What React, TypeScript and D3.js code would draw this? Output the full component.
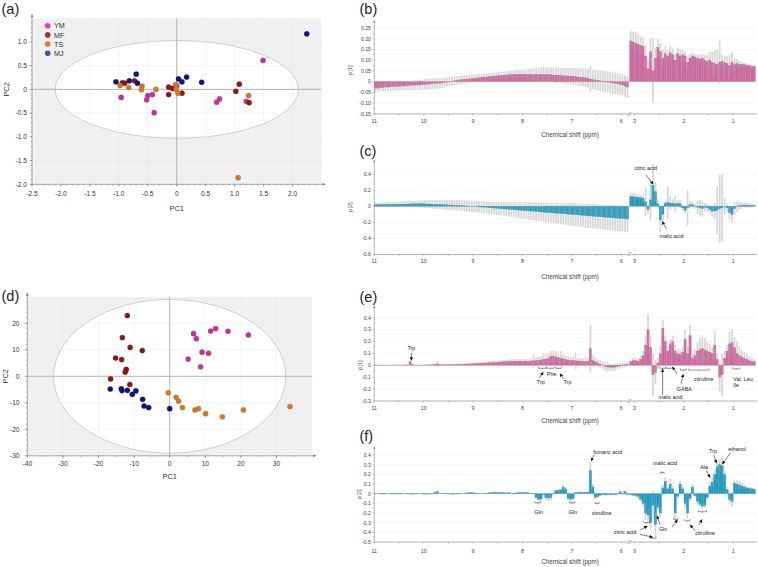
import React from "react";
import * as d3 from "d3";

const FONT = "'Liberation Sans', Arial, Helvetica, sans-serif";

// ---- PCA scores (a): [PC1, PC2] ----
const aYM = [[1.49, 0.61], [-0.96, -0.17], [-0.5, -0.13], [-0.52, -0.22], [-0.42, -0.11], [-0.39, -0.49], [0.0, 0.08], [0.69, -0.27], [0.74, -0.2], [1.2, -0.25]];
const aMF = [[-0.94, 0.14], [-0.9, 0.13], [-0.73, 0.18], [-0.14, 0.05], [-0.07, 0.02], [-0.14, -0.11], [0.09, -0.08], [1.02, -0.04], [1.08, 0.11], [1.25, -0.28]];
const aTS = [[-0.98, 0.08], [-0.83, 0.04], [-0.6, 0.07], [-0.61, -0.01], [-0.36, 0.0], [-0.02, 0.1], [-0.01, 0.0], [0.02, -0.08], [1.24, -0.13], [1.06, -1.86]];
const aMJ = [[2.245, 1.17], [-1.05, 0.16], [-0.7, 0.32], [-0.82, 0.18], [-0.68, 0.13], [0.03, 0.22], [0.09, 0.16], [0.17, 0.26], [0.43, 0.15]];

// ---- PCA scores (d) ----
const dYM = [[6.7, 16.1], [7.5, 14.2], [11.5, 17.1], [12.9, 18.0], [16.4, 17.0], [22.1, 15.6], [9.1, 9.1], [10.9, 8.7], [5.2, 6.5], [8.7, 3.6]];
const dMF = [[-11.9, 22.9], [-13.3, 14.6], [-11.1, 10.9], [-7.7, 9.7], [-15.2, 6.9], [-13.5, 6.3], [-12.2, 2.6], [-12.5, 1.6], [-16.6, -1.0], [-11.2, -3.1]];
const dTS = [[-0.4, -6.2], [1.8, -7.9], [2.5, -9.4], [3.6, -11.8], [7.1, -12.7], [8.1, -12.2], [10.1, -14.1], [14.8, -15.3], [20.7, -12.7], [33.8, -11.4]];
const dMJ = [[-16.7, -4.8], [-13.6, -4.7], [-13.4, -5.4], [-11.9, -5.3], [-10.5, -6.8], [-9.5, -5.5], [-7.6, -8.7], [-7.2, -11.2], [-5.9, -11.8], [0.0, -12.2]];

const groupNames = ["YM", "MF", "TS", "MJ"];
const dotColors = ["#c2339f", "#8b1717", "#cf7b27", "#0e1480"];
const keyColors = ["#e03fcc", "#9e3535", "#e97d22", "#3d5b97"];

const aXTicks = [-2.5, -2, -1.5, -1, -0.5, 0, 0.5, 1, 1.5, 2];
const aYTicks = [-2, -1.5, -1, -0.5, 0, 0.5, 1];
const dXTicks = [-40, -30, -20, -10, 0, 10, 20, 30];
const dYTicks = [-30, -20, -10, 0, 10, 20];

// ---- loadings: 0.05 ppm buckets, left block from 11 ppm, right block from 3.1 ppm ----
const BIN = 0.05;
const LEFT_FROM = 11;
const RIGHT_FROM = 3.1;

const bLeft = [
  -0.03, -0.03, -0.028, -0.027, -0.025, -0.025, -0.024, -0.023, -0.022, -0.022,
  -0.021, -0.02, -0.02, -0.019, -0.018, -0.017, -0.016, -0.016, -0.015, -0.014,
  -0.013, -0.012, -0.011, -0.01, -0.009, -0.008, -0.007, -0.006, -0.004, -0.002,
  0.0, 0.002, 0.004, 0.006, 0.008, 0.01, 0.011, 0.012, 0.013, 0.015,
  0.016, 0.017, 0.018, 0.02, 0.021, 0.022, 0.024, 0.025, 0.026, 0.027,
  0.028, 0.029, 0.03, 0.031, 0.032, 0.033, 0.033, 0.034, 0.035, 0.035,
  0.035, 0.034, 0.034, 0.035, 0.033, 0.034, 0.033, 0.035, 0.034, 0.033,
  0.033, 0.032, 0.031, 0.03, 0.03, 0.029, 0.028, 0.027, 0.027, 0.026,
  0.025, 0.024, 0.022, 0.021, 0.02, 0.018, 0.016, 0.012, 0.01, 0.008,
  0.006, 0.004, 0.002, 0.0, -0.002, -0.004, -0.006, -0.008, -0.01, -0.012,
  -0.015, -0.02, -0.025,
];
const bLeftErr = [
  0.018, 0.018, 0.017, 0.018, 0.019, 0.018, 0.018, 0.019, 0.02, 0.02,
  0.02, 0.021, 0.02, 0.021, 0.022, 0.022, 0.023, 0.023, 0.024, 0.024,
  0.024, 0.025, 0.025, 0.024, 0.025, 0.024, 0.024, 0.023, 0.023, 0.022,
  0.022, 0.021, 0.021, 0.02, 0.02, 0.02, 0.019, 0.019, 0.018, 0.018,
  0.018, 0.017, 0.017, 0.016, 0.016, 0.016, 0.016, 0.015, 0.016, 0.016,
  0.016, 0.016, 0.017, 0.017, 0.018, 0.018, 0.019, 0.02, 0.02, 0.021,
  0.022, 0.024, 0.025, 0.027, 0.028, 0.03, 0.03, 0.032, 0.034, 0.033,
  0.034, 0.035, 0.034, 0.035, 0.036, 0.035, 0.036, 0.037, 0.038, 0.038,
  0.039, 0.04, 0.04, 0.042, 0.041, 0.043, 0.044, 0.06, 0.045, 0.046,
  0.046, 0.047, 0.048, 0.048, 0.049, 0.05, 0.05, 0.05, 0.05, 0.05,
  0.05, 0.05, 0.05,
];
const bRight = [
  0.19, 0.185, 0.18, 0.175, 0.17, 0.165, 0.12, 0.06, 0.14, 0.05,
  0.11, 0.16, 0.14, 0.11, 0.13, 0.12, 0.135, 0.125, 0.1, 0.13,
  0.12, 0.125, 0.12, 0.09, 0.11, 0.12, 0.115, 0.11, 0.105, 0.11,
  0.1, 0.095, 0.1, 0.09, 0.085, 0.08, 0.09, 0.095, 0.09, 0.085,
  0.075, 0.09, 0.08, 0.085, 0.08, 0.08, 0.08, 0.075, 0.075, 0.07,
  0.07,
];
const bRightErr = [
  0.05, 0.05, 0.05, 0.045, 0.04, 0.04, 0.05, 0.05, 0.06, 0.15,
  0.05, 0.04, 0.04, 0.04, 0.035, 0.03, 0.03, 0.03, 0.03, 0.03,
  0.03, 0.025, 0.02, 0.03, 0.02, 0.015, 0.015, 0.015, 0.02, 0.02,
  0.025, 0.03, 0.04, 0.05, 0.06, 0.07, 0.1, 0.03, 0.03, 0.035,
  0.05, 0.045, 0.03, 0.02, 0.015, 0.01, 0.01, 0.01, 0.008, 0.008,
  0.008,
];

const cLeft = [
  0.02, 0.021, 0.02, 0.022, 0.022, 0.024, 0.024, 0.025, 0.025, 0.026,
  0.026, 0.027, 0.028, 0.028, 0.029, 0.03, 0.03, 0.03, 0.031, 0.03,
  0.03, 0.028, 0.028, 0.025, 0.025, 0.024, 0.022, 0.02, 0.02, 0.018,
  0.016, 0.015, 0.013, 0.012, 0.01, 0.008, 0.006, 0.004, 0.002, 0.0,
  -0.002, -0.005, -0.008, -0.01, -0.012, -0.015, -0.018, -0.02, -0.022, -0.025,
  -0.028, -0.03, -0.033, -0.035, -0.038, -0.04, -0.043, -0.045, -0.048, -0.05,
  -0.053, -0.055, -0.058, -0.06, -0.063, -0.065, -0.068, -0.07, -0.073, -0.075,
  -0.078, -0.08, -0.083, -0.085, -0.088, -0.09, -0.092, -0.095, -0.097, -0.1,
  -0.102, -0.105, -0.108, -0.11, -0.112, -0.115, -0.118, -0.12, -0.122, -0.125,
  -0.128, -0.13, -0.133, -0.135, -0.138, -0.14, -0.143, -0.145, -0.148, -0.15,
  -0.152, -0.155, -0.158,
];
const cLeftErr = [
  0.025, 0.025, 0.026, 0.027, 0.028, 0.028, 0.029, 0.03, 0.03, 0.031,
  0.032, 0.033, 0.034, 0.035, 0.036, 0.036, 0.038, 0.04, 0.042, 0.044,
  0.046, 0.048, 0.05, 0.052, 0.054, 0.056, 0.058, 0.06, 0.06, 0.062,
  0.062, 0.064, 0.064, 0.065, 0.066, 0.066, 0.067, 0.068, 0.068, 0.07,
  0.07, 0.071, 0.072, 0.073, 0.074, 0.075, 0.076, 0.077, 0.078, 0.079,
  0.08, 0.082, 0.084, 0.086, 0.088, 0.09, 0.092, 0.095, 0.098, 0.1,
  0.102, 0.104, 0.106, 0.108, 0.11, 0.112, 0.114, 0.116, 0.118, 0.12,
  0.122, 0.124, 0.126, 0.128, 0.13, 0.132, 0.134, 0.136, 0.138, 0.14,
  0.141, 0.142, 0.144, 0.145, 0.146, 0.148, 0.149, 0.15, 0.151, 0.152,
  0.153, 0.154, 0.155, 0.156, 0.157, 0.158, 0.158, 0.159, 0.16, 0.16,
  0.16, 0.16, 0.16,
];
const cRight = [
  0.12, 0.12, 0.115, 0.11, 0.11, 0.1, 0.06, -0.04, 0.08, 0.26,
  0.18, 0.03, -0.17, -0.1, 0.04, 0.05, 0.04, 0.04, 0.03, 0.035,
  0.03, -0.02, -0.05, -0.02, 0.02, 0.02, 0.0, -0.01, -0.02, -0.03,
  -0.01, -0.02, -0.04, -0.06, -0.06, -0.05, -0.03, -0.02, 0.0, -0.02,
  -0.08, -0.1, -0.03, 0.0, 0.01, 0.01, 0.015, 0.015, 0.01, 0.01,
  0.01,
];
const cRightErr = [
  0.05, 0.05, 0.04, 0.04, 0.035, 0.04, 0.18, 0.05, 0.25, 0.26,
  0.12, 0.06, 0.15, 0.1, 0.02, 0.2, 0.08, 0.05, 0.1, 0.04,
  0.05, 0.04, 0.05, 0.22, 0.05, 0.03, 0.03, 0.08, 0.1, 0.1,
  0.05, 0.05, 0.05, 0.07, 0.1, 0.3, 0.42, 0.42, 0.1, 0.05,
  0.08, 0.1, 0.08, 0.07, 0.05, 0.04, 0.03, 0.03, 0.03, 0.025,
  0.02,
];

const eLeft = [
  0.002, 0.002, 0.001, 0.002, 0.002, 0.001, 0.002, 0.002, 0.003, 0.002,
  0.002, 0.002, 0.003, 0.003, 0.03, 0.008, 0.002, 0.002, 0.001, 0.002,
  0.002, 0.003, 0.003, 0.004, 0.006, 0.012, 0.005, 0.004, 0.004, 0.005,
  0.005, 0.006, 0.006, 0.007, 0.008, 0.008, 0.009, 0.01, 0.012, 0.012,
  0.013, 0.015, 0.016, 0.017, 0.018, 0.02, 0.021, 0.022, 0.024, 0.025,
  0.027, 0.028, 0.03, 0.03, 0.032, 0.033, 0.032, 0.034, 0.035, 0.034,
  0.033, 0.035, 0.034, 0.036, 0.038, 0.04, 0.042, 0.045, 0.05, 0.052,
  0.06, 0.075, 0.078, 0.07, 0.065, 0.06, 0.055, 0.05, 0.045, 0.04,
  0.04, 0.038, 0.036, 0.035, 0.033, 0.03, 0.032, 0.14, 0.04, 0.03,
  0.02, 0.01, 0.0, -0.01, -0.015, -0.018, -0.02, -0.015, -0.01, -0.005,
  0.0, 0.005, 0.008,
];
const eLeftErr = [
  0.004, 0.004, 0.004, 0.004, 0.004, 0.004, 0.004, 0.004, 0.004, 0.004,
  0.004, 0.004, 0.004, 0.005, 0.012, 0.006, 0.004, 0.004, 0.004, 0.004,
  0.005, 0.005, 0.005, 0.005, 0.008, 0.022, 0.006, 0.005, 0.005, 0.005,
  0.006, 0.006, 0.006, 0.007, 0.007, 0.008, 0.008, 0.009, 0.009, 0.01,
  0.01, 0.01, 0.011, 0.012, 0.012, 0.012, 0.013, 0.013, 0.014, 0.014,
  0.015, 0.015, 0.016, 0.016, 0.017, 0.017, 0.018, 0.018, 0.018, 0.02,
  0.02, 0.02, 0.022, 0.022, 0.055, 0.025, 0.03, 0.03, 0.05, 0.035,
  0.04, 0.045, 0.045, 0.05, 0.04, 0.06, 0.035, 0.03, 0.03, 0.03,
  0.028, 0.07, 0.025, 0.025, 0.025, 0.04, 0.03, 0.2, 0.045, 0.035,
  0.03, 0.03, 0.03, 0.035, 0.035, 0.03, 0.03, 0.03, 0.025, 0.025,
  0.02, 0.02, 0.02,
];
const eRight = [
  0.03, 0.04, 0.04, 0.035, 0.05, 0.08, 0.17, 0.3, 0.15, -0.08,
  -0.06, 0.02, 0.1, 0.31, 0.2, 0.12, 0.18, 0.2, 0.12, 0.1,
  0.09, 0.11, 0.22, 0.1, 0.25, 0.06, 0.08, 0.12, 0.13, 0.14,
  0.13, 0.12, 0.11, 0.1, 0.17, 0.05, -0.1, -0.08, 0.06, 0.12,
  0.18, 0.19, 0.15, 0.1, 0.08, 0.07, 0.06, 0.05, 0.04, 0.035,
  0.03,
];
const eRightErr = [
  0.02, 0.02, 0.02, 0.02, 0.03, 0.04, 0.08, 0.13, 0.1, 0.18,
  0.1, 0.05, 0.06, 0.07, 0.05, 0.04, 0.04, 0.05, 0.05, 0.04,
  0.04, 0.04, 0.08, 0.06, 0.09, 0.04, 0.05, 0.07, 0.1, 0.11,
  0.1, 0.08, 0.07, 0.05, 0.12, 0.05, 0.12, 0.18, 0.06, 0.05,
  0.1, 0.11, 0.09, 0.1, 0.08, 0.06, 0.05, 0.04, 0.035, 0.03,
  0.025,
];

const fLeft = [
  0.0, 0.001, 0.0, -0.002, 0.0, 0.001, 0.0, -0.002, -0.001, 0.0,
  -0.002, 0.0, 0.002, 0.0, -0.003, -0.004, -0.002, 0.0, 0.001, -0.003,
  -0.004, -0.003, -0.002, 0.0, 0.01, 0.022, 0.005, 0.001, 0.0, -0.002,
  -0.003, -0.004, -0.003, -0.002, 0.0, 0.003, 0.005, 0.008, 0.01, 0.01,
  0.008, 0.006, 0.005, 0.003, 0.002, 0.0, 0.008, 0.01, 0.012, 0.01,
  0.01, 0.012, 0.01, 0.008, 0.01, 0.003, 0.0, 0.008, 0.01, 0.01,
  0.012, 0.01, 0.008, 0.005, 0.0, -0.04, -0.06, -0.055, -0.01, -0.04,
  -0.045, -0.04, 0.0, 0.03, 0.035, 0.04, 0.07, 0.05, -0.05, -0.06,
  -0.05, 0.01, 0.01, 0.015, 0.01, 0.012, 0.015, 0.24, 0.07, -0.04,
  -0.03, -0.015, -0.01, -0.012, -0.01, -0.01, -0.008, -0.01, -0.005, 0.02,
  0.0, 0.02, -0.01,
];
const fLeftErr = [
  0.004, 0.004, 0.004, 0.004, 0.004, 0.004, 0.004, 0.004, 0.004, 0.004,
  0.004, 0.004, 0.004, 0.004, 0.004, 0.004, 0.004, 0.004, 0.004, 0.004,
  0.004, 0.004, 0.004, 0.004, 0.006, 0.01, 0.004, 0.004, 0.004, 0.004,
  0.004, 0.005, 0.005, 0.005, 0.005, 0.005, 0.005, 0.006, 0.006, 0.006,
  0.006, 0.006, 0.006, 0.006, 0.006, 0.006, 0.006, 0.006, 0.006, 0.006,
  0.006, 0.006, 0.006, 0.006, 0.006, 0.006, 0.006, 0.006, 0.006, 0.006,
  0.006, 0.006, 0.006, 0.006, 0.006, 0.01, 0.02, 0.02, 0.01, 0.03,
  0.03, 0.03, 0.01, 0.01, 0.012, 0.012, 0.02, 0.015, 0.02, 0.02,
  0.02, 0.008, 0.008, 0.008, 0.008, 0.008, 0.01, 0.09, 0.03, 0.02,
  0.015, 0.01, 0.008, 0.008, 0.008, 0.008, 0.008, 0.008, 0.008, 0.015,
  0.01, 0.015, 0.01,
];
const fRight = [
  -0.01, -0.015, -0.02, -0.03, -0.06, -0.1, -0.2, -0.22, -0.3, -0.12,
  -0.32, -0.14, -0.2, 0.06, 0.13, 0.05, 0.1, 0.05, -0.2, -0.03,
  0.1, 0.05, -0.1, -0.2, -0.05, 0.07, -0.02, -0.08, -0.11, -0.13,
  -0.12, -0.04, 0.08, 0.12, 0.2, 0.28, 0.3, 0.29, 0.2, 0.04,
  -0.06, -0.08, 0.11, 0.1, 0.09, 0.08, 0.07, 0.06, 0.055, 0.05,
  0.045,
];
const fRightErr = [
  0.01, 0.01, 0.015, 0.02, 0.02, 0.03, 0.07, 0.06, 0.06, 0.15,
  0.13, 0.05, 0.04, 0.03, 0.04, 0.03, 0.06, 0.03, 0.06, 0.02,
  0.03, 0.03, 0.04, 0.06, 0.03, 0.03, 0.02, 0.03, 0.03, 0.03,
  0.03, 0.02, 0.04, 0.05, 0.05, 0.05, 0.06, 0.08, 0.05, 0.03,
  0.04, 0.05, 0.03, 0.04, 0.04, 0.03, 0.02, 0.02, 0.015, 0.015,
  0.012,
];

const bTicks = [-0.15, -0.1, -0.05, 0, 0.05, 0.1, 0.15, 0.2, 0.25];
const cTicks = [-0.6, -0.4, -0.2, 0, 0.2, 0.4];
const eTicks = [-0.3, -0.2, -0.1, 0, 0.1, 0.2, 0.3, 0.4];
const fTicks = [-0.5, -0.4, -0.3, -0.2, -0.1, 0, 0.1, 0.2, 0.3, 0.4];
const ppmLeftTicks = [11, 10, 9, 8, 7, 6];
const ppmRightTicks = [3, 2, 1];

// annotations: [text, ppm, value, anchor]
const cNotes = [["citric acid", 3.0, 0.45, "start"], ["malic acid", 2.25, -0.39, "middle"]];
const cArrows = [[2.77, 0.39, 2.62, 0.275], [2.35, -0.28, 2.44, -0.19]];
const eNotes = [
  ["Trp", 10.25, 0.13, "middle"], ["Trp", 7.63, -0.16, "middle"], ["Phe", 7.41, -0.09, "middle"],
  ["Trp", 7.09, -0.16, "middle"], ["malic acid", 2.27, -0.283, "middle"], ["GABA", 1.99, -0.22, "middle"],
  ["citrulline", 1.6, -0.13, "middle"], ["Val, Leu,", 1.0, -0.13, "start"], ["Ile", 1.0, -0.18, "start"],
];
const eArrows = [
  [10.25, 0.105, 10.25, 0.042], [7.66, -0.107, 7.58, -0.058], [7.17, -0.115, 7.24, -0.07],
  [2.43, -0.25, 2.43, -0.03], [2.14, -0.07, 2.23, -0.015], [2.06, -0.155, 2.01, -0.075],
];
const eBraces = [
  [7.68, 7.52, -0.025, 1], [7.51, 7.36, -0.025, 1], [7.33, 7.21, -0.025, 1], [2.49, 2.37, -0.025, 1],
  [2.36, 2.23, -0.025, 1], [2.07, 1.95, -0.04, 1], [1.91, 1.49, -0.04, 1], [1.01, 0.87, -0.03, 1],
];
const fNotes = [
  ["fumaric acid", 6.57, 0.41, "start"], ["Gln", 7.67, -0.205, "middle"], ["Gln", 6.98, -0.21, "middle"],
  ["citrulline", 6.4, -0.22, "middle"], ["malic acid", 2.38, 0.295, "middle"], ["Ala", 1.59, 0.26, "middle"],
  ["Trp", 1.41, 0.42, "middle"], ["ethanol", 0.92, 0.44, "middle"], ["citric acid", 3.19, -0.42, "middle"],
  ["Gln", 2.42, -0.385, "middle"], ["citrulline", 1.57, -0.427, "middle"],
];
const fArrows = [
  [6.55, 0.4, 6.61, 0.34], [1.55, 0.245, 1.47, 0.167], [1.39, 0.4, 1.34, 0.317], [1.06, 0.42, 1.22, 0.307],
  [2.89, -0.376, 2.74, -0.335], [2.89, -0.42, 2.63, -0.45], [2.48, -0.323, 2.54, -0.23],
  [2.24, -0.345, 2.13, -0.27], [1.77, -0.386, 1.87, -0.324], [1.7, -0.324, 1.63, -0.267],
];
const fBraces = [
  [7.75, 7.63, -0.093, 1], [7.05, 6.94, -0.093, 1], [6.53, 6.45, -0.1, 1], [2.47, 2.4, 0.22, -1],
  [2.81, 2.68, -0.3, 1], [2.68, 2.56, -0.46, 1], [2.21, 2.12, -0.265, 1], [1.98, 1.88, -0.28, 1],
  [1.71, 1.54, -0.186, 1],
];

const xl = d3.scaleLinear().domain([11, 5.85]).range([374.3, 628.7]);
const xr = d3.scaleLinear().domain([3.1, 0.55]).range([629.5, 755.5]);
const X = (ppm: number) => (ppm > 4.5 ? xl(ppm) : xr(ppm));

const mids = (t: number[]) => d3.pairs(t).map(([a, b]) => (a + b) / 2);

function Scores(p: any) {
  const [L, T, R, B] = p.box;
  const x = d3.scaleLinear().domain(p.xDom).range([L, R]);
  const y = d3.scaleLinear().domain(p.yDom).range([B, T]);
  const sets = [p.ym, p.mf, p.ts, p.mj];
  return (
    <g>
      <text x={1.5} y={p.tagY} fontSize={14.5} fill="#222">{p.tag}</text>
      <rect x={L} y={T} width={R - L} height={B - T} fill="#f0f0f0" />
      <ellipse cx={x(0)} cy={y(0)} rx={x(p.ell[0]) - x(0)} ry={y(0) - y(p.ell[1])} fill="#fff" stroke="#c4c4c4" strokeWidth={0.8} />
      {p.xTicks.map((t: number) => (
        <line key={"gx" + t} x1={x(t)} x2={x(t)} y1={T} y2={B} stroke="#e6e6e6" strokeWidth={0.5} />
      ))}
      {p.yTicks.map((t: number) => (
        <line key={"gy" + t} x1={L} x2={R} y1={y(t)} y2={y(t)} stroke="#e6e6e6" strokeWidth={0.5} />
      ))}
      <line x1={x(0)} x2={x(0)} y1={T} y2={B} stroke="#a6a6a6" strokeWidth={0.8} />
      <line x1={L} x2={R} y1={y(0)} y2={y(0)} stroke="#a6a6a6" strokeWidth={0.8} />
      {sets.map((pts: number[][], g: number) =>
        pts.map((d, i) => (
          <circle key={g + "-" + i} cx={x(d[0])} cy={y(d[1])} r={2.6} fill={dotColors[g]} stroke={d3.color(dotColors[g])!.darker(0.6).toString()} strokeWidth={0.3} />
        ))
      )}
      {p.legend &&
        groupNames.map((n, i) => (
          <g key={n}>
            <circle cx={47.7} cy={25.7 + i * 9.2} r={2.8} fill={keyColors[i]} />
            <text x={54} y={28.3 + i * 9.2} fontSize={7.2} fill="#333">{n}</text>
          </g>
        ))}
      <line x1={L} x2={L} y1={B} y2={T - 3} stroke="#777" strokeWidth={0.6} />
      <path d={`M${L - 1.3},${T - 1} L${L},${T - 4.5} L${L + 1.3},${T - 1} Z`} fill="#777" />
      <line x1={L} x2={R + 3} y1={B} y2={B} stroke="#777" strokeWidth={0.6} />
      <path d={`M${R + 1},${B - 1.3} L${R + 4.5},${B} L${R + 1},${B + 1.3} Z`} fill="#777" />
      {p.xMinor.map((t: number) => (
        <line key={"xm" + t} x1={x(t)} x2={x(t)} y1={B} y2={B + 1.3} stroke="#777" strokeWidth={0.5} />
      ))}
      {p.yMinor.map((t: number) => (
        <line key={"ym" + t} x1={L} x2={L - 1.3} y1={y(t)} y2={y(t)} stroke="#777" strokeWidth={0.5} />
      ))}
      {p.xTicks.map((t: number) => (
        <g key={"xt" + t}>
          <line x1={x(t)} x2={x(t)} y1={B} y2={B + 2.5} stroke="#777" strokeWidth={0.6} />
          <text x={x(t)} y={B + p.xLabelDy} fontSize={6.6} textAnchor="middle" fill="#333">{p.fmt(t)}</text>
        </g>
      ))}
      {p.yTicks.map((t: number) => (
        <g key={"yt" + t}>
          <line x1={L} x2={L - 2.5} y1={y(t)} y2={y(t)} stroke="#777" strokeWidth={0.6} />
          <text x={p.yLabelX} y={y(t) + 2.3} fontSize={6.6} textAnchor="end" fill="#333">{p.fmt(t)}</text>
        </g>
      ))}
      <text x={x(0)} y={p.titleY} fontSize={7.4} textAnchor="middle" fill="#333">PC1</text>
      <text transform={`translate(${p.pc2X},${y(0)}) rotate(-90)`} fontSize={7.4} textAnchor="middle" dy="0.35em" fill="#333">PC2</text>
    </g>
  );
}

function Loadings(p: any) {
  const y = d3.scaleLinear().domain(p.domain).range([p.bottom, p.top]);
  const bars = [
    ...p.left.map((v: number, i: number) => ({ a: xl(LEFT_FROM - i * BIN), b: xl(LEFT_FROM - (i + 1) * BIN), v, e: p.leftErr[i] })),
    ...p.right.map((v: number, i: number) => ({ a: xr(RIGHT_FROM - i * BIN), b: xr(RIGHT_FROM - (i + 1) * BIN), v, e: p.rightErr[i] })),
  ];
  const X0 = 374.3;
  const X1 = 757;
  const B = p.bottom;
  const fmt = (t: number) => (t === 0 ? "0" : t.toFixed(p.digits));
  return (
    <g>
      <text x={359.5} y={p.tagY} fontSize={14.5} fill="#222">{p.tag}</text>
      {p.ticks.map((t: number) => (
        <line key={"g" + t} x1={X0} x2={X1} y1={y(t)} y2={y(t)} stroke="#ededed" strokeWidth={0.5} />
      ))}
      {bars.map((d: any, i: number) => {
        const w = d.b - d.a;
        const c = d.a + w / 2;
        return (
          <g key={i}>
            <rect x={c - w * 0.4} width={w * 0.8} y={y(d.v + d.e)} height={Math.max(0.3, y(d.v - d.e) - y(d.v + d.e))} fill="#e4e4e4" />
            <rect x={d.a + 0.1} width={w - 0.2} y={y(Math.max(0, d.v))} height={Math.max(0.25, Math.abs(y(d.v) - y(0)))} fill={p.color} stroke={p.edge} strokeWidth={0.25} />
            <line x1={c} x2={c} y1={y(d.v + d.e)} y2={y(d.v - d.e)} stroke="#b4b4b4" strokeWidth={0.35} />
          </g>
        );
      })}
      <line x1={X0} x2={X0} y1={B} y2={p.top} stroke="#888" strokeWidth={0.6} />
      <path d={`M${X0 - 1.1},${p.top + 1} L${X0},${p.top - 2} L${X0 + 1.1},${p.top + 1} Z`} fill="#888" />
      {mids(p.ticks).map((t: number) => (
        <line key={"ym" + t} x1={X0} x2={X0 - 1.2} y1={y(t)} y2={y(t)} stroke="#888" strokeWidth={0.4} />
      ))}
      {p.ticks.map((t: number) => (
        <g key={"yt" + t}>
          <line x1={X0} x2={X0 - 2} y1={y(t)} y2={y(t)} stroke="#888" strokeWidth={0.5} />
          <text x={371} y={y(t) + 1.8} fontSize={5.2} textAnchor="end" fill="#444">{fmt(t)}</text>
        </g>
      ))}
      <text transform={`translate(${p.labelX},${p.labelY}) rotate(-90)`} fontSize={5.6} textAnchor="middle" dy="0.35em" fill="#444">{p.label}</text>
      <line x1={X0} x2={X1} y1={B} y2={B} stroke="#888" strokeWidth={0.6} />
      {[...ppmLeftTicks.map((t) => xl(t)), ...mids(ppmLeftTicks).map((t) => xl(t)), ...ppmRightTicks.map((t) => xr(t)), ...mids(ppmRightTicks).map((t) => xr(t))].map((px, i) => (
        <line key={"xt" + i} x1={px} x2={px} y1={B} y2={B + 1.6} stroke="#888" strokeWidth={0.5} />
      ))}
      {ppmLeftTicks.map((t) => (
        <text key={"l" + t} x={xl(t)} y={p.tickY} fontSize={5.4} textAnchor="middle" fill="#444">{t}</text>
      ))}
      {ppmRightTicks.map((t) => (
        <text key={"r" + t} x={xr(t)} y={p.tickY} fontSize={5.4} textAnchor="middle" fill="#444">{t}</text>
      ))}
      <rect x={627.6} y={B - 1} width={3} height={2} fill="#fff" />
      <text x={629.2} y={B + 1.6} fontSize={5.5} fontStyle="italic" textAnchor="middle" fill="#555">//</text>
      <text x={570} y={p.titleY} fontSize={6.3} textAnchor="middle" fill="#444">Chemical shift (ppm)</text>
      {(p.braces || []).map((b: number[], i: number) => {
        const [p1, p2, v, dir] = b;
        const yy = y(v);
        const xa = X(p1);
        const xb = X(p2);
        return (
          <path key={"br" + i} d={`M${xa},${yy - dir * 1.6} L${xa},${yy} L${xb},${yy} L${xb},${yy - dir * 1.6} M${(xa + xb) / 2},${yy} L${(xa + xb) / 2},${yy + dir * 1.1}`} fill="none" stroke="#222" strokeWidth={0.45} />
        );
      })}
      {(p.arrows || []).map((a: number[], i: number) => (
        <line key={"ar" + i} x1={X(a[0])} y1={y(a[1])} x2={X(a[2])} y2={y(a[3])} stroke="#111" strokeWidth={0.55} markerEnd="url(#tip)" />
      ))}
      {(p.notes || []).map((n: any[], i: number) => (
        <text key={"n" + i} x={X(n[1])} y={y(n[2])} fontSize={5.4} textAnchor={n[3]} fill="#222">{n[0]}</text>
      ))}
    </g>
  );
}

export default function App() {
  const f1 = (t: number) => (t === 0 ? "0" : t.toFixed(1));
  const f0 = (t: number) => String(t);
  return (
    <svg width={758} height={567} viewBox="0 0 758 567" fontFamily={FONT} style={{ position: "absolute", left: 0, top: 0, background: "#fff" }}>
      <defs>
        <marker id="tip" viewBox="0 0 6 6" refX={5.5} refY={3} markerWidth={3.4} markerHeight={3.4} orient="auto" markerUnits="userSpaceOnUse">
          <path d="M0,0 L6,3 L0,6 Z" fill="#111" />
        </marker>
      </defs>
      <Scores tag="(a)" tagY={13.5} box={[32, 18.2, 321.5, 184.3]} xDom={[-2.5, 2.5]} yDom={[-2, 1.5]}
        xTicks={aXTicks} yTicks={aYTicks} xMinor={d3.range(-25, 25).map((v) => v / 10)} yMinor={d3.range(-20, 15).map((v) => v / 10)}
        ell={[2.1, 1.03]} ym={aYM} mf={aMF} ts={aTS} mj={aMJ} fmt={f1} xLabelDy={12} yLabelX={27} titleY={211} pc2X={6} legend />
      <Scores tag="(d)" tagY={301} box={[27.3, 296.8, 312.1, 455.8]} xDom={[-40, 40]} yDom={[-30, 30]}
        xTicks={dXTicks} yTicks={dYTicks} xMinor={d3.range(-40, 40, 5)} yMinor={d3.range(-30, 30, 2)}
        ell={[32.6, 29]} ym={dYM} mf={dMF} ts={dTS} mj={dMJ} fmt={f0} xLabelDy={10.5} yLabelX={19.5} titleY={478.5} pc2X={5} />
      <Loadings tag="(b)" tagY={14} label="p[1]" labelX={350} labelY={70} top={21.56} bottom={113.9} domain={[-0.15, 0.28]}
        ticks={bTicks} digits={2} color="#cc6a9e" edge="#b2538a" left={bLeft} leftErr={bLeftErr} right={bRight} rightErr={bRightErr}
        tickY={122.6} titleY={136.5} />
      <Loadings tag="(c)" tagY={155.5} label="p[2]" labelX={350.5} labelY={207} top={161.2} bottom={254.6} domain={[-0.6, 0.56]}
        ticks={cTicks} digits={1} color="#1f9cc2" edge="#17809f" left={cLeft} leftErr={cLeftErr} right={cRight} rightErr={cRightErr}
        tickY={263} titleY={279} notes={cNotes} arrows={cArrows} />
      <Loadings tag="(e)" tagY={302} label="p[1]" labelX={360} labelY={365} top={307} bottom={401} domain={[-0.3, 0.49]}
        ticks={eTicks} digits={1} color="#cc6a9e" edge="#b2538a" left={eLeft} leftErr={eLeftErr} right={eRight} rightErr={eRightErr}
        tickY={410.3} titleY={423} notes={eNotes} arrows={eArrows} braces={eBraces} />
      <Loadings tag="(f)" tagY={440.5} label="p[2]" labelX={359} labelY={494} top={447.8} bottom={542.05} domain={[-0.5, 0.475]}
        ticks={fTicks} digits={1} color="#1f9cc2" edge="#17809f" left={fLeft} leftErr={fLeftErr} right={fRight} rightErr={fRightErr}
        tickY={553} titleY={563.5} notes={fNotes} arrows={fArrows} braces={fBraces} />
    </svg>
  );
}
